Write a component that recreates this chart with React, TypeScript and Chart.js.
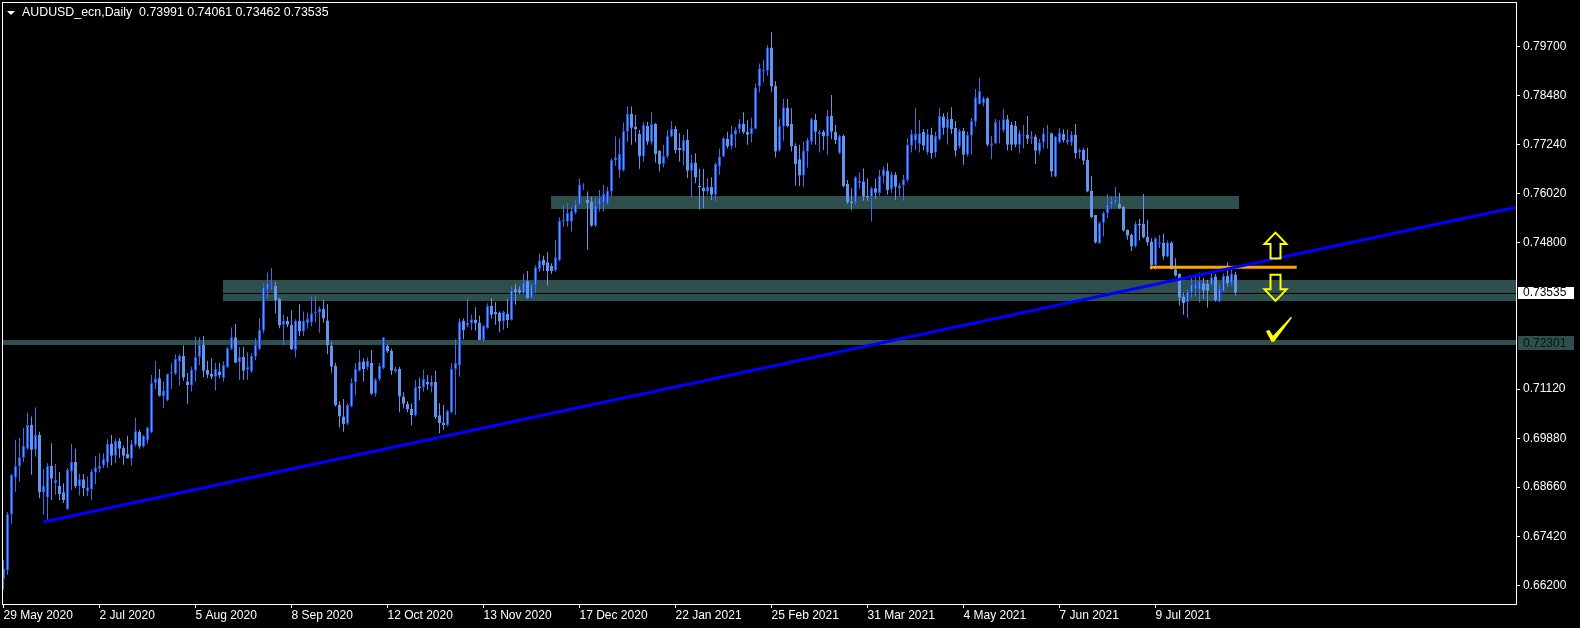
import React, { useEffect, useRef } from 'react';
import { Chart, registerables } from 'chart.js';

Chart.register(...registerables);

// ---------- data ----------
const SYMBOL = 'AUDUSD_ecn';
const PERIOD = 'Daily';

const OPEN = [
  .6636,.6657,.6798,.6890,.6918,.6940,.6962,.7022,.6960,.6997,
  .6853,.6840,.6919,.6876,.6869,.6853,.6811,.6905,.6929,.6868,
  .6886,.6855,.6861,.6903,.6912,.6920,.6928,.6975,.6945,.6982,
  .6964,.6949,.6937,.6972,.7004,.6968,.6983,.7003,.7127,.7139,
  .7093,.7083,.7150,.7150,.7181,.7195,.7131,.7121,.7158,.7192,
  .7223,.7160,.7150,.7143,.7156,.7139,.7167,.7212,.7242,.7179,
  .7192,.7160,.7156,.7193,.7212,.7258,.7360,.7371,.7371,.7338,
  .7273,.7283,.7273,.7210,.7283,.7256,.7277,.7279,.7302,.7304,
  .7313,.7284,.7221,.7170,.7072,.7043,.7025,.7068,.7128,.7158,
  .7181,.7167,.7177,.7100,.7137,.7164,.7220,.7208,.7156,.7162,
  .7093,.7075,.7062,.7046,.7118,.7117,.7130,.7118,.7130,.7046,
  .7028,.7021,.7053,.7162,.7171,.7283,.7271,.7277,.7285,.7279,
  .7235,.7265,.7320,.7305,.7304,.7281,.7300,.7285,.7362,.7361,
  .7352,.7383,.7340,.7371,.7412,.7436,.7430,.7421,.7409,.7434,
  .7532,.7532,.7532,.7554,.7575,.7622,.7586,.7582,.7521,.7572,
  .7578,.7576,.7607,.7685,.7661,.7660,.7757,.7801,.7770,.7751,
  .7695,.7772,.7730,.7776,.7709,.7676,.7695,.7745,.7764,.7717,
  .7707,.7736,.7659,.7680,.7621,.7617,.7607,.7619,.7599,.7670,
  .7695,.7739,.7720,.7749,.7764,.7776,.7757,.7751,.7764,.7870,
  .7909,.7910,.7968,.7872,.7710,.7770,.7817,.7776,.7721,.7688,
  .7647,.7707,.7732,.7786,.7751,.7757,.7745,.7797,.7757,.7703,
  .7746,.7626,.7582,.7578,.7628,.7632,.7596,.7593,.7615,.7603,
  .7645,.7659,.7613,.7649,.7615,.7622,.7636,.7722,.7735,.7726,
  .7756,.7705,.7749,.7705,.7738,.7795,.7766,.7789,.7767,.7720,
  .7759,.7699,.7747,.7782,.7826,.7828,.7841,.7722,.7728,.7765,
  .7761,.7788,.7774,.7771,.7724,.7747,.7749,.7739,.7745,.7707,
  .7730,.7753,.7753,.7644,.7730,.7751,.7730,.7730,.7750,.7705,
  .7711,.7686,.7609,.7548,.7477,.7529,.7553,.7573,.7580,.7576,
  .7569,.7511,.7498,.7469,.7526,.7526,.7493,.7482,.7423,.7475,
  .7479,.7444,.7479,.7412,.7400,.7344,.7330,.7354,.7363,.7361,
  .7377,.7376,.7373,.7394,.7331,.7356,.7396,.7377,.73991,
];

const HIGH = [
  .6684,.6804,.6899,.6985,.6989,.7014,.7053,.7043,.7066,.7005,
  .6912,.6926,.6976,.6924,.6904,.6876,.6914,.6975,.6962,.6899,
  .6899,.6893,.6911,.6944,.6951,.6951,.6986,.6997,.6987,.6989,
  .6970,.6995,.6985,.7040,.7010,.6997,.7018,.7147,.7182,.7162,
  .7131,.7150,.7177,.7199,.7199,.7221,.7152,.7168,.7243,.7242,
  .7245,.7183,.7189,.7177,.7177,.7181,.7218,.7266,.7275,.7217,
  .7217,.7204,.7202,.7239,.7289,.7377,.7404,.7415,.7381,.7341,
  .7299,.7294,.7309,.7287,.7325,.7306,.7304,.7344,.7345,.7319,
  .7335,.7325,.7231,.7177,.7081,.7087,.7076,.7139,.7177,.7210,
  .7189,.7191,.7210,.7139,.7177,.7242,.7224,.7213,.7168,.7168,
  .7104,.7081,.7076,.7135,.7141,.7160,.7147,.7145,.7158,.7076,
  .7072,.7060,.7177,.7237,.7289,.7289,.7339,.7298,.7317,.7296,
  .7273,.7327,.7340,.7330,.7306,.7308,.7337,.7369,.7376,.7369,
  .7401,.7408,.7377,.7422,.7451,.7446,.7455,.7427,.7486,.7542,
  .7573,.7578,.7569,.7586,.7640,.7628,.7607,.7593,.7593,.7611,
  .7624,.7619,.7690,.7745,.7740,.7780,.7821,.7820,.7799,.7761,
  .7782,.7782,.7806,.7778,.7711,.7724,.7761,.7784,.7772,.7753,
  .7749,.7763,.7699,.7703,.7664,.7664,.7640,.7643,.7680,.7715,
  .7743,.7757,.7771,.7768,.7789,.7806,.7786,.7792,.7878,.7928,
  .7937,.7974,.8006,.7884,.7789,.7839,.7839,.7816,.7728,.7724,
  .7732,.7741,.7792,.7801,.7761,.7761,.7812,.7849,.7774,.7749,
  .7749,.7636,.7615,.7645,.7655,.7665,.7639,.7619,.7639,.7661,
  .7670,.7678,.7657,.7655,.7628,.7649,.7741,.7761,.7816,.7786,
  .7764,.7764,.7767,.7757,.7816,.7803,.7806,.7818,.7784,.7764,
  .7766,.7757,.7791,.7864,.7892,.7845,.7843,.7746,.7789,.7785,
  .7814,.7799,.7781,.7784,.7761,.7774,.7796,.7759,.7749,.7739,
  .7767,.7774,.7755,.7746,.7766,.7763,.7763,.7759,.7776,.7715,
  .7717,.7717,.7646,.7548,.7532,.7557,.7601,.7594,.7619,.7604,
  .7571,.7512,.7502,.7532,.7538,.7601,.7536,.7490,.7492,.7498,
  .7502,.7484,.7482,.7440,.7402,.7354,.7362,.7394,.7401,.7404,
  .7390,.7386,.7404,.7400,.7375,.7401,.7429,.7411,.74061,
];

const LOW = [
  .6609,.6646,.6774,.6854,.6880,.6929,.6960,.6897,.6943,.6838,
  .6797,.6782,.6834,.6847,.6834,.6826,.6809,.6858,.6863,.6845,
  .6843,.6843,.6833,.6874,.6903,.6914,.6914,.6920,.6926,.6939,
  .6922,.6937,.6920,.6968,.6962,.6965,.6975,.7001,.7112,.7093,
  .7064,.7081,.7112,.7147,.7121,.7133,.7075,.7106,.7131,.7172,
  .7142,.7139,.7137,.7108,.7139,.7131,.7164,.7210,.7177,.7135,
  .7135,.7135,.7152,.7185,.7210,.7252,.7339,.7360,.7302,.7264,
  .7221,.7267,.7210,.7191,.7245,.7245,.7263,.7269,.7279,.7253,
  .7279,.7199,.7153,.7068,.7016,.7005,.7022,.7066,.7097,.7156,
  .7131,.7160,.7097,.7093,.7133,.7162,.7202,.7147,.7152,.7054,
  .7064,.7054,.7021,.7043,.7083,.7106,.7110,.7103,.7037,.7001,
  .7010,.7018,.7051,.7047,.7143,.7237,.7267,.7260,.7258,.7235,
  .7230,.7263,.7288,.7273,.7254,.7260,.7265,.7284,.7323,.7350,
  .7351,.7338,.7338,.7352,.7406,.7408,.7371,.7400,.7406,.7432,
  .7519,.7519,.7507,.7550,.7573,.7611,.7461,.7519,.7518,.7557,
  .7557,.7573,.7596,.7671,.7642,.7657,.7732,.7724,.7730,.7664,
  .7682,.7724,.7724,.7680,.7657,.7668,.7690,.7743,.7703,.7682,
  .7672,.7640,.7592,.7628,.7562,.7565,.7599,.7586,.7582,.7649,
  .7693,.7715,.7713,.7717,.7753,.7751,.7724,.7730,.7763,.7855,
  .7880,.7897,.7857,.7692,.7707,.7734,.7768,.7707,.7622,.7621,
  .7619,.7667,.7724,.7724,.7705,.7711,.7699,.7738,.7726,.7701,
  .7618,.7576,.7561,.7574,.7614,.7584,.7584,.7532,.7589,.7597,
  .7628,.7599,.7603,.7586,.7594,.7584,.7630,.7705,.7711,.7705,
  .7710,.7699,.7690,.7693,.7735,.7749,.7725,.7751,.7695,.7715,
  .7674,.7695,.7700,.7770,.7826,.7820,.7720,.7688,.7726,.7728,
  .7755,.7710,.7710,.7718,.7703,.7715,.7726,.7726,.7676,.7699,
  .7715,.7714,.7644,.7643,.7728,.7730,.7724,.7721,.7690,.7690,
  .7674,.7605,.7540,.7477,.7476,.7494,.7540,.7563,.7576,.7563,
  .7507,.7486,.7458,.7467,.7484,.7490,.7472,.7411,.7411,.7465,
  .7436,.7442,.7411,.7394,.7321,.7298,.7290,.7341,.7344,.7329,
  .7337,.7316,.7369,.7331,.7330,.7355,.7369,.7371,.73462,
];

const CLOSE = [
  .6663,.6798,.6897,.6919,.6941,.6970,.7022,.6960,.6997,.6853,
  .6869,.6919,.6887,.6884,.6849,.6834,.6909,.6929,.6868,.6886,
  .6863,.6866,.6905,.6915,.6920,.6937,.6975,.6945,.6982,.6962,
  .6945,.6939,.6975,.7007,.6968,.6995,.7016,.7127,.7139,.7095,
  .7108,.7150,.7154,.7187,.7196,.7141,.7122,.7160,.7192,.7223,
  .7158,.7148,.7143,.7162,.7147,.7172,.7214,.7242,.7178,.7192,
  .7158,.7167,.7195,.7223,.7260,.7367,.7377,.7377,.7335,.7271,
  .7283,.7273,.7212,.7283,.7256,.7283,.7288,.7302,.7306,.7313,
  .7289,.7221,.7168,.7071,.7043,.7024,.7072,.7127,.7162,.7181,
  .7162,.7183,.7100,.7135,.7170,.7242,.7206,.7158,.7162,.7093,
  .7075,.7061,.7046,.7117,.7114,.7137,.7123,.7130,.7041,.7026,
  .7022,.7057,.7162,.7177,.7281,.7260,.7279,.7287,.7277,.7235,
  .7270,.7320,.7298,.7300,.7281,.7305,.7285,.7361,.7354,.7354,
  .7380,.7340,.7371,.7417,.7434,.7423,.7408,.7408,.7442,.7533,
  .7536,.7554,.7558,.7576,.7624,.7624,.7578,.7521,.7573,.7592,
  .7601,.7609,.7686,.7693,.7701,.7759,.7801,.7767,.7764,.7695,
  .7774,.7732,.7776,.7701,.7676,.7696,.7746,.7764,.7711,.7711,
  .7736,.7659,.7680,.7642,.7617,.7607,.7619,.7599,.7676,.7695,
  .7741,.7720,.7751,.7761,.7778,.7755,.7749,.7766,.7868,.7916,
  .7913,.7968,.7870,.7707,.7771,.7818,.7771,.7720,.7676,.7647,
  .7709,.7736,.7789,.7757,.7756,.7745,.7797,.7757,.7736,.7746,
  .7621,.7580,.7578,.7643,.7634,.7594,.7592,.7615,.7604,.7646,
  .7663,.7611,.7650,.7619,.7622,.7638,.7724,.7751,.7751,.7753,
  .7722,.7751,.7703,.7747,.7797,.7767,.7789,.7764,.7709,.7759,
  .7699,.7749,.7784,.7843,.7859,.7841,.7724,.7728,.7781,.7767,
  .7788,.7724,.7724,.7724,.7753,.7750,.7739,.7744,.7709,.7730,
  .7753,.7755,.7657,.7745,.7755,.7736,.7738,.7750,.7703,.7711,
  .7684,.7607,.7543,.7479,.7528,.7553,.7575,.7584,.7588,.7565,
  .7509,.7496,.7469,.7526,.7522,.7492,.7480,.7423,.7490,.7480,
  .7444,.7479,.7412,.7396,.7341,.7327,.7356,.7375,.7375,.7383,
  .7359,.7358,.7392,.7335,.7365,.7396,.7377,.7401,.73535,
];

const DATE_TICK_INDEX = [0, 24, 48, 72, 96, 120, 144, 168, 192, 216, 240, 264, 288];
const DATE_LABELS = [
  '29 May 2020', '2 Jul 2020', '5 Aug 2020', '8 Sep 2020', '12 Oct 2020', '13 Nov 2020',
  '17 Dec 2020', '22 Jan 2021', '25 Feb 2021', '31 Mar 2021', '4 May 2021', '7 Jun 2021', '9 Jul 2021',
];
const PRICE_TICKS = [0.797, 0.7848, 0.7724, 0.7602, 0.748, 0.7112, 0.6988, 0.6866, 0.6742, 0.662];

// drawn objects, in (bar index, price) coordinates
const TRENDLINE = [{ x: 9.95, y: 0.67786 }, { x: 378.125, y: 0.75675 }];
const RESISTANCE_LINE = [{ x: 286.6, y: 0.7417 }, { x: 323.3, y: 0.7417 }];
const ZONE_FROM = [136.9, 54.8];
const ZONE_TO = [308.9, 378.125];
const ZONE_LOW = [0.75632, 0.73326];
const ZONE_HIGH = [0.75958, 0.73853];
const SUPPORT_LEVEL = 0.72301;
const BID_PRICE = 0.73535;
const MARKER_KIND = ['up', 'down', 'check'];
const MARKER_X = [318, 318, 317.25];
const MARKER_Y = [0.7504, 0.7333, 0.7232];

// view range
const X_MIN = -0.125;
const X_MAX = 378.125;
const Y_MIN = 0.657311;
const Y_MAX = 0.807953;

// ---------- styles ----------
const FONT = "'Liberation Sans', Arial, sans-serif";
const CANDLE_FILL = '#6495ED';
const BULL_EDGE = '#1C4FE6';
const BULL_WICK = '#3F6FE0';
const BEAR_WICK = '#6495ED';
const ZONE_COLOR = '#2F4F4F';

export default function App() {
  const ref = useRef<HTMLCanvasElement>(null);

  useEffect(() => {
    const canvas = ref.current;
    if (!canvas) return;
    const idx = OPEN.map((_, i) => i);
    const bull = idx.map((i) => CLOSE[i] >= OPEN[i]);

    const bgPlugin = {
      id: 'bg',
      beforeDraw(c: any) {
        const ctx = c.ctx;
        ctx.save();
        ctx.fillStyle = '#000000';
        ctx.fillRect(0, 0, c.width, c.height);
        ctx.restore();
      },
    };

    const zonesPlugin = {
      id: 'zones',
      beforeDatasetsDraw(c: any) {
        const { ctx, chartArea: a } = c;
        const xs = c.scales.x;
        const ys = c.scales.y;
        ctx.save();
        ctx.beginPath();
        ctx.rect(a.left, a.top, a.right - a.left, a.bottom - a.top);
        ctx.clip();
        ctx.fillStyle = ZONE_COLOR;
        for (let k = 0; k < ZONE_FROM.length; k++) {
          const x0 = Math.round(xs.getPixelForValue(ZONE_FROM[k]));
          const x1 = Math.round(xs.getPixelForValue(ZONE_TO[k]));
          const y0 = Math.round(ys.getPixelForValue(ZONE_HIGH[k]));
          const y1 = Math.round(ys.getPixelForValue(ZONE_LOW[k]));
          ctx.fillRect(x0, y0, x1 - x0, y1 - y0);
        }
        const ys1 = Math.round(ys.getPixelForValue(SUPPORT_LEVEL));
        ctx.fillRect(a.left, ys1 - 2, a.right - a.left, 5);
        const yb = Math.round(ys.getPixelForValue(BID_PRICE));
        ctx.fillStyle = '#000000';
        ctx.fillRect(a.left, yb, a.right - a.left, 1);
        ctx.restore();
      },
    };

    const overlayPlugin = {
      id: 'overlay',
      afterDatasetsDraw(c: any) {
        const ctx = c.ctx;
        const xs = c.scales.x;
        const ys = c.scales.y;
        ctx.save();
        ctx.strokeStyle = '#FFFF00';
        ctx.fillStyle = '#FFFF00';
        ctx.lineWidth = 2;
        ctx.lineJoin = 'miter';
        for (let k = 0; k < MARKER_KIND.length; k++) {
          const tx = xs.getPixelForValue(MARKER_X[k]);
          const ty = ys.getPixelForValue(MARKER_Y[k]);
          const kind = MARKER_KIND[k];
          if (kind === 'up' || kind === 'down') {
            const s = kind === 'up' ? 1 : -1;
            const pts = [[0, 0], [11, 11.5], [5, 11.5], [5, 26], [-5, 26], [-5, 11.5], [-11, 11.5]];
            ctx.beginPath();
            pts.forEach(([px, py], j) => {
              const X = tx + px;
              const Y = ty + s * py;
              if (j === 0) ctx.moveTo(X, Y);
              else ctx.lineTo(X, Y);
            });
            ctx.closePath();
            ctx.stroke();
          } else {
            const pts = [[-6.5, -10], [-3.5, -11.5], [0.5, -5.5], [18.5, -24.5], [19.5, -23.5], [1.5, 0.5], [-1, 0.5]];
            ctx.beginPath();
            pts.forEach(([px, py], j) => {
              if (j === 0) ctx.moveTo(tx + px, ty + py);
              else ctx.lineTo(tx + px, ty + py);
            });
            ctx.closePath();
            ctx.fill();
          }
        }
        ctx.restore();
      },
      afterDraw(c: any) {
        const { ctx, chartArea: a } = c;
        const ys = c.scales.y;
        ctx.save();
        // frame
        ctx.strokeStyle = '#FFFFFF';
        ctx.lineWidth = 1;
        ctx.strokeRect(a.left - 0.5, a.top - 0.5, a.right - a.left + 1, a.bottom - a.top + 1);
        // price boxes
        ctx.font = `12px ${FONT}`;
        ctx.textBaseline = 'middle';
        ctx.textAlign = 'left';
        const yb = ys.getPixelForValue(BID_PRICE);
        ctx.fillStyle = '#FFFFFF';
        ctx.fillRect(a.right + 2, Math.round(yb) - 6, 56, 12);
        ctx.fillStyle = '#000000';
        ctx.fillText(BID_PRICE.toFixed(5), a.right + 7, yb + 0.5);
        const ysu = ys.getPixelForValue(SUPPORT_LEVEL);
        ctx.fillStyle = ZONE_COLOR;
        ctx.fillRect(a.right + 2, Math.round(ysu) - 6, 56, 14);
        ctx.fillStyle = '#0A1212';
        ctx.fillText(SUPPORT_LEVEL.toFixed(5), a.right + 7, ysu + 1.5);
        // title
        ctx.fillStyle = '#FFFFFF';
        ctx.beginPath();
        ctx.moveTo(7, 11);
        ctx.lineTo(15, 11);
        ctx.lineTo(11, 15);
        ctx.closePath();
        ctx.fill();
        const n = OPEN.length - 1;
        ctx.font = `12.4px ${FONT}`;
        const title = `${SYMBOL},${PERIOD}  ${OPEN[n].toFixed(5)} ${HIGH[n].toFixed(5)} ${LOW[n].toFixed(5)} ${CLOSE[n].toFixed(5)}`;
        ctx.fillText(title, 22, 13);
        ctx.restore();
      },
    };

    const axisGrid = {
      display: true,
      drawOnChartArea: false,
      drawTicks: true,
      tickLength: 4,
      color: '#FFFFFF',
      tickColor: '#FFFFFF',
      offset: false,
    };

    const chart = new Chart(canvas, {
      type: 'bar',
      data: {
        datasets: [
          {
            type: 'line',
            data: TRENDLINE,
            borderColor: '#0000FF',
            borderWidth: 3,
            pointRadius: 0,
            fill: false,
            order: 0,
          },
          {
            type: 'line',
            data: RESISTANCE_LINE,
            borderColor: '#FFA500',
            borderWidth: 3,
            pointRadius: 0,
            fill: false,
            order: 0,
          },
          {
            type: 'bar',
            data: idx.map((i) => ({ x: i, y: [OPEN[i], CLOSE[i]] })),
            backgroundColor: idx.map(() => CANDLE_FILL),
            borderColor: idx.map((i) => (bull[i] ? BULL_EDGE : CANDLE_FILL)),
            borderWidth: 1,
            borderSkipped: false,
            inflateAmount: 0,
            grouped: false,
            categoryPercentage: 1,
            barPercentage: 0.75,
            minBarLength: 1,
            order: 1,
          },
          {
            type: 'bar',
            data: idx.map((i) => ({ x: i, y: [LOW[i], HIGH[i]] })),
            backgroundColor: idx.map((i) => (bull[i] ? BULL_WICK : BEAR_WICK)),
            borderWidth: 0,
            inflateAmount: 0,
            grouped: false,
            categoryPercentage: 1,
            barPercentage: 0.25,
            order: 2,
          },
        ],
      } as any,
      options: {
        animation: false,
        responsive: false,
        devicePixelRatio: 1,
        events: [],
        layout: { padding: { left: 3, top: 3, right: 0, bottom: 0 } },
        plugins: { legend: { display: false }, tooltip: { enabled: false }, title: { display: false } },
        scales: {
          x: {
            type: 'linear',
            min: X_MIN,
            max: X_MAX,
            offset: false,
            afterBuildTicks: (s: any) => {
              s.ticks = DATE_TICK_INDEX.map((v) => ({ value: v }));
            },
            afterFit: (s: any) => {
              s.height = 24;
              s.paddingLeft = 0;
              s.paddingRight = 0;
            },
            grid: axisGrid,
            border: { display: false },
            ticks: {
              align: 'start',
              color: '#FFFFFF',
              font: { family: FONT, size: 12, lineHeight: 1 },
              padding: 2,
              maxRotation: 0,
              minRotation: 0,
              autoSkip: false,
              callback: (v: any) => {
                const k = DATE_TICK_INDEX.indexOf(Number(v));
                return k >= 0 ? DATE_LABELS[k] : '';
              },
            },
          },
          y: {
            type: 'linear',
            position: 'right',
            min: Y_MIN,
            max: Y_MAX,
            beginAtZero: false,
            afterBuildTicks: (s: any) => {
              s.ticks = PRICE_TICKS.map((v) => ({ value: v }));
            },
            afterFit: (s: any) => {
              s.width = 64;
              s.paddingTop = 0;
              s.paddingBottom = 0;
            },
            grid: axisGrid,
            border: { display: false },
            ticks: {
              color: '#FFFFFF',
              font: { family: FONT, size: 12 },
              padding: 3,
              autoSkip: false,
              callback: (v: any) => Number(v).toFixed(5),
            },
          },
        },
      } as any,
      plugins: [bgPlugin, zonesPlugin, overlayPlugin],
    });

    return () => chart.destroy();
  }, []);

  return (
    <div style={{ position: 'fixed', left: 0, top: 0, width: 1580, height: 628, background: '#000000' }}>
      <canvas ref={ref} width={1580} height={628} style={{ display: 'block', width: 1580, height: 628 }} />
    </div>
  );
}
